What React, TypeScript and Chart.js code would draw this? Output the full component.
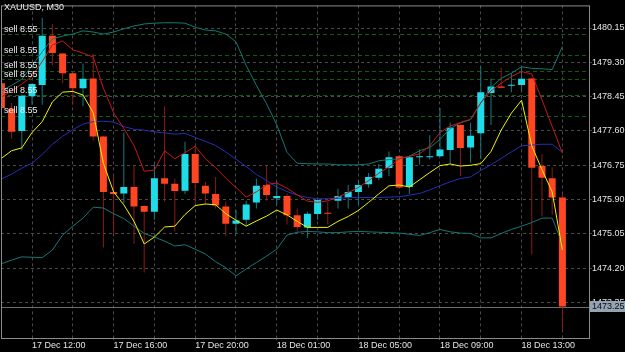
import React, { useEffect, useRef } from 'react';
import { Chart, registerables } from 'chart.js';

Chart.register(...registerables);

const chartTitle = 'XAUUSD, M30';

// 56 M30 bars, 17 Dec 10:30 .. 18 Dec 15:00
const opens = [
  1478.78, 1478.15, 1477.60, 1478.46, 1478.74, 1479.96, 1479.52, 1479.03, 1478.66, 1478.90,
  1477.46, 1476.09, 1476.05, 1476.21, 1475.74, 1475.60, 1476.43, 1476.29, 1476.12, 1477.03,
  1476.24, 1476.04, 1475.73, 1475.30, 1475.40, 1475.83, 1476.26, 1475.93, 1475.99, 1475.51,
  1475.21, 1475.54, 1475.57, 1475.87, 1475.95, 1476.09, 1476.28, 1476.44, 1476.68, 1476.97,
  1476.21, 1476.95, 1476.95, 1476.97, 1477.13, 1477.75, 1477.19, 1477.54, 1478.54, 1478.70,
  1478.72, 1478.74, 1478.90, 1476.73, 1476.43, 1475.95,
];
const highs = [
  1478.83, 1478.29, 1478.50, 1478.79, 1480.40, 1480.25, 1479.54, 1479.05, 1479.27, 1479.52,
  1477.48, 1476.51, 1477.56, 1476.73, 1475.76, 1476.78, 1478.21, 1476.42, 1477.33, 1477.23,
  1476.34, 1476.46, 1475.85, 1475.64, 1475.87, 1476.42, 1476.73, 1476.34, 1476.05, 1475.68,
  1475.60, 1475.93, 1475.85, 1476.17, 1476.26, 1476.38, 1476.56, 1476.78, 1477.09, 1477.00,
  1476.99, 1477.14, 1477.49, 1478.17, 1477.80, 1477.77, 1477.80, 1479.19, 1478.90, 1479.17,
  1479.03, 1479.19, 1478.92, 1477.03, 1476.70, 1476.05,
];
const lows = [
  1478.12, 1477.40, 1477.12, 1478.25, 1478.25, 1479.23, 1478.78, 1478.25, 1478.21, 1477.36,
  1474.71, 1475.03, 1475.81, 1474.80, 1474.09, 1475.40, 1475.85, 1475.11, 1476.03, 1475.81,
  1475.77, 1475.68, 1474.99, 1475.05, 1475.24, 1475.68, 1475.87, 1475.77, 1475.28, 1475.11,
  1474.95, 1475.40, 1475.28, 1475.68, 1475.68, 1475.78, 1476.19, 1476.38, 1476.48, 1476.18,
  1476.03, 1476.76, 1476.89, 1476.95, 1476.78, 1476.48, 1476.81, 1476.91, 1477.75, 1478.66,
  1478.56, 1478.58, 1474.54, 1475.48, 1475.52, 1472.67,
];
const closes = [
  1478.17, 1477.58, 1478.47, 1478.76, 1479.96, 1479.53, 1479.03, 1478.66, 1478.89, 1477.46,
  1476.09, 1476.04, 1476.21, 1475.73, 1475.60, 1476.43, 1476.29, 1476.11, 1477.03, 1476.31,
  1476.05, 1475.75, 1475.30, 1475.38, 1475.78, 1476.24, 1476.01, 1475.99, 1475.51, 1475.22,
  1475.55, 1475.89, 1475.55, 1475.99, 1476.09, 1476.26, 1476.46, 1476.66, 1476.95, 1476.20,
  1476.95, 1476.97, 1476.97, 1477.14, 1477.68, 1477.18, 1477.48, 1478.56, 1478.70, 1478.67,
  1478.73, 1478.89, 1476.69, 1476.44, 1475.95, 1473.25,
];

const upperBand = [
  1478.59, 1478.73, 1478.88, 1479.22, 1479.56, 1479.88, 1479.95, 1480.00, 1480.08, 1480.05,
  1480.00, 1480.05, 1480.13, 1480.20, 1480.25, 1480.27, 1480.28, 1480.28, 1480.27, 1480.17,
  1480.10, 1480.08, 1480.00, 1479.81, 1479.22, 1478.73, 1478.27, 1477.75, 1477.07, 1476.80,
  1476.79, 1476.78, 1476.78, 1476.76, 1476.76, 1476.76, 1476.78, 1476.86, 1476.89, 1476.91,
  1476.97, 1477.11, 1477.19, 1477.39, 1477.66, 1477.80, 1477.88, 1478.29, 1478.68, 1478.90,
  1479.03, 1479.19, 1479.15, 1479.14, 1479.12, 1479.69,
];
const lowerBand = [
  1474.31, 1474.40, 1474.48, 1474.47, 1474.46, 1474.65, 1475.02, 1475.24, 1475.44, 1475.71,
  1475.69, 1475.55, 1475.43, 1475.24, 1475.06, 1474.97, 1474.87, 1474.75, 1474.78, 1474.67,
  1474.55, 1474.36, 1474.21, 1474.01, 1474.18, 1474.34, 1474.50, 1474.67, 1475.02, 1475.09,
  1475.11, 1475.10, 1475.08, 1475.08, 1475.10, 1475.11, 1475.10, 1475.09, 1475.08, 1475.07,
  1475.04, 1475.01, 1475.08, 1475.16, 1475.10, 1475.07, 1475.06, 1474.95, 1474.95, 1475.06,
  1475.16, 1475.24, 1475.33, 1475.44, 1475.44, 1474.80,
];
const middleBand = [
  1476.41, 1476.53, 1476.68, 1476.80, 1477.02, 1477.27, 1477.47, 1477.63, 1477.77, 1477.83,
  1477.84, 1477.82, 1477.71, 1477.64, 1477.62, 1477.58, 1477.55, 1477.52, 1477.54, 1477.44,
  1477.34, 1477.24, 1477.08, 1476.90, 1476.72, 1476.52, 1476.37, 1476.21, 1476.10, 1476.01,
  1475.95, 1475.92, 1475.92, 1475.93, 1475.95, 1475.95, 1475.95, 1475.95, 1475.96, 1475.97,
  1476.01, 1476.05, 1476.14, 1476.24, 1476.34, 1476.42, 1476.46, 1476.62, 1476.76, 1476.92,
  1477.08, 1477.23, 1477.25, 1477.27, 1477.27, 1477.07,
];
const redAverage = [
  1478.44, 1478.59, 1478.76, 1478.95, 1479.32, 1479.73, 1479.83, 1479.61, 1479.53, 1479.43,
  1478.66, 1478.05, 1477.66, 1477.24, 1476.60, 1476.63, 1477.11, 1476.91, 1477.06, 1477.22,
  1476.91, 1476.69, 1476.43, 1476.20, 1475.96, 1476.09, 1476.27, 1476.31, 1476.18, 1476.02,
  1475.86, 1475.83, 1475.87, 1475.96, 1476.07, 1476.20, 1476.37, 1476.55, 1476.71, 1476.91,
  1476.97, 1477.03, 1477.23, 1477.56, 1477.72, 1477.81, 1477.89, 1478.30, 1478.59, 1478.78,
  1478.95, 1479.07, 1479.01, 1478.37, 1477.71, 1477.05,
];
const yellowAverage = [
  1476.92, 1477.11, 1477.18, 1477.56, 1477.83, 1478.32, 1478.56, 1478.58, 1478.49, 1478.05,
  1476.80, 1476.09, 1475.77, 1475.36, 1474.80, 1474.97, 1475.22, 1475.24, 1475.53, 1475.75,
  1475.79, 1475.77, 1475.55, 1475.39, 1475.24, 1475.37, 1475.49, 1475.64, 1475.52, 1475.36,
  1475.21, 1475.21, 1475.21, 1475.36, 1475.48, 1475.63, 1475.83, 1476.04, 1476.24, 1476.26,
  1476.21, 1476.39, 1476.57, 1476.74, 1476.78, 1476.73, 1476.75, 1476.79, 1477.09, 1477.62,
  1478.04, 1478.36, 1477.23, 1476.64, 1476.09, 1474.65,
];

const priceTicks = [1473.35, 1474.2, 1475.05, 1475.9, 1476.75, 1477.6, 1478.45, 1479.3, 1480.15];
const timeLabels = ['17 Dec 12:00', '17 Dec 16:00', '17 Dec 20:00', '18 Dec 01:00', '18 Dec 05:00', '18 Dec 09:00', '18 Dec 13:00'];
const timeLabelBars = [3, 11, 19, 27, 35, 43, 51];
const gridBars = [3, 7, 11, 15, 19, 23, 27, 31, 35, 39, 43, 47, 51, 55];
const sellOrderPrices = [1480.0, 1479.47, 1479.09, 1478.88, 1478.48, 1477.98];
const sellOrderLabels = ['sell 8.55', 'sell 8.55', 'sell 8.55', 'sell 8.55', 'sell 8.55', 'sell 8.55'];
const bidPrice = 1473.25;
const visibleBars = { min: -0.04, max: 57.61 };
const priceRange = { min: 1472.47, max: 1480.71 };

const FONT = "'Liberation Sans', Arial, sans-serif";
const BULL = '#1fdde8';
const BEAR = '#ff4522';
const BULL_WICK = '#177a80';
const BEAR_WICK = '#8a1c14';

const overlayPlugin = {
  id: 'mtOverlay',
  beforeDatasetsDraw(chart: any) {
    const { ctx, chartArea: a, scales } = chart;
    const y = scales.y;
    ctx.save();
    ctx.beginPath();
    ctx.rect(a.left, a.top, a.right - a.left, a.bottom - a.top);
    ctx.clip();
    ctx.lineWidth = 1;
    ctx.strokeStyle = '#0f5c0f';
    ctx.setLineDash([4, 3]);
    sellOrderPrices.forEach((p) => {
      const py = Math.round(y.getPixelForValue(p)) + 0.5;
      ctx.beginPath();
      ctx.moveTo(a.left, py);
      ctx.lineTo(a.right, py);
      ctx.stroke();
    });
    ctx.setLineDash([]);
    ctx.strokeStyle = '#6c6c6c';
    const by = Math.round(y.getPixelForValue(bidPrice)) + 0.5;
    ctx.beginPath();
    ctx.moveTo(a.left, by);
    ctx.lineTo(a.right, by);
    ctx.stroke();
    ctx.restore();
  },
  afterDraw(chart: any) {
    const { ctx, chartArea: a, scales, width } = chart;
    const y = scales.y;
    ctx.save();
    // frame
    ctx.strokeStyle = '#8a8a8a';
    ctx.lineWidth = 1;
    ctx.strokeRect(a.left + 0.5, a.top + 0.5, a.right - a.left, a.bottom - a.top);
    // title
    ctx.font = `9px ${FONT}`;
    ctx.fillStyle = '#ececec';
    ctx.textAlign = 'left';
    ctx.textBaseline = 'middle';
    ctx.fillText(chartTitle, 4, 7.5);
    // sell labels
    sellOrderPrices.forEach((p, i) => {
      const py = y.getPixelForValue(p);
      ctx.fillText(sellOrderLabels[i], 4, py - 5);
    });
    // bid box
    const by = y.getPixelForValue(bidPrice);
    ctx.fillStyle = '#93a3b3';
    ctx.fillRect(a.right + 1, Math.round(by) - 6, width - a.right - 1, 11);
    ctx.fillStyle = '#0c0c0c';
    ctx.fillText(bidPrice.toFixed(2), a.right + 3, by);
    ctx.restore();
  },
};

export default function App() {
  const ref = useRef<HTMLCanvasElement | null>(null);

  useEffect(() => {
    if (!ref.current) return;
    const idx = opens.map((_, i) => i);
    const bull = idx.map((i) => closes[i] >= opens[i]);
    const lineDs = (label: string, values: number[], color: string, order: number) => ({
      type: 'line' as const,
      label,
      data: values.map((v, i) => ({ x: i, y: v })),
      borderColor: color,
      borderWidth: 1,
      pointRadius: 0,
      fill: false,
      tension: 0,
      order,
    });

    const chart = new Chart(ref.current, {
      type: 'bar',
      data: {
        datasets: [
          lineDs('Yellow MA', yellowAverage, '#f2f200', 0),
          lineDs('Red MA', redAverage, '#c81818', 1),
          lineDs('Middle band', middleBand, '#2430b4', 2),
          lineDs('Upper band', upperBand, '#147878', 3),
          lineDs('Lower band', lowerBand, '#147878', 3),
          {
            type: 'bar',
            label: 'Body',
            data: idx.map((i) => ({ x: i, y: [opens[i], closes[i]] })) as any,
            backgroundColor: bull.map((b) => (b ? BULL : BEAR)),
            borderWidth: 0,
            barThickness: 7,
            minBarLength: 1,
            grouped: false,
            inflateAmount: 0,
            order: 10,
          } as any,
          {
            type: 'bar',
            label: 'Wick',
            data: idx.map((i) => ({ x: i, y: [lows[i], highs[i]] })) as any,
            backgroundColor: bull.map((b) => (b ? BULL_WICK : BEAR_WICK)),
            borderWidth: 0,
            barThickness: 1,
            grouped: false,
            inflateAmount: 0,
            order: 11,
          } as any,
        ],
      },
      options: {
        responsive: false,
        animation: false,
        devicePixelRatio: 1,
        layout: { padding: { left: 1, top: 1, right: 0, bottom: 0 } },
        plugins: { legend: { display: false }, tooltip: { enabled: false } },
        scales: {
          x: {
            type: 'linear',
            min: visibleBars.min,
            max: visibleBars.max,
            offset: false,
            afterBuildTicks: (s: any) => {
              s.ticks = gridBars.map((v) => ({ value: v }));
            },
            afterFit: (s: any) => {
              s.height = 14;
            },
            grid: {
              offset: false,
              color: '#4a4a4a',
              tickColor: '#4a4a4a',
              tickLength: 2,
              lineWidth: 1,
            },
            border: { display: false, dash: [3, 3] },
            ticks: {
              autoSkip: false,
              maxRotation: 0,
              minRotation: 0,
              align: 'start',
              padding: 0,
              color: '#e4e4e4',
              font: { family: FONT, size: 9 },
              callback: (v: any) => {
                const k = timeLabelBars.indexOf(Math.round(Number(v)));
                return k >= 0 ? timeLabels[k] : '';
              },
            },
          },
          y: {
            type: 'linear',
            position: 'right',
            min: priceRange.min,
            max: priceRange.max,
            afterBuildTicks: (s: any) => {
              s.ticks = priceTicks.map((v) => ({ value: v }));
            },
            afterFit: (s: any) => {
              s.width = 36;
            },
            grid: {
              color: '#4a4a4a',
              tickColor: '#4a4a4a',
              tickLength: 3,
              lineWidth: 1,
            },
            border: { display: false, dash: [3, 3] },
            ticks: {
              padding: 0,
              color: '#e4e4e4',
              font: { family: FONT, size: 9 },
              callback: (v: any) => Number(v).toFixed(2),
            },
          },
        },
      },
      plugins: [overlayPlugin],
    } as any);

    return () => chart.destroy();
  }, []);

  return (
    <div style={{ position: 'absolute', left: 0, top: 0, width: 625, height: 352, background: '#000' }}>
      <canvas ref={ref} width={625} height={352} style={{ display: 'block', background: '#000' }} />
    </div>
  );
}
